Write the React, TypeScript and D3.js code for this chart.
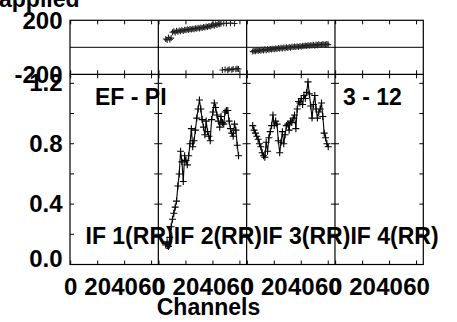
import React from "react";
import * as d3 from "d3";

// ---- data ----
const IF_LABELS = ["IF 1(RR)", "IF 2(RR)", "IF 3(RR)", "IF 4(RR)"];
const CHANNEL_TICKS = [0, 20, 40, 60];
const AMP_TICKS = [0, 0.2, 0.4, 0.6, 0.8, 1.0, 1.2];
const AMP_LABELS = [0, 0.4, 0.8, 1.2];
const PHASE_LABELS = [-200, 200];

const IF1_START = 0;
const IF1_AMP: number[] = [];
const IF1_PHASE: number[] = [];

const IF2_START = 5;
const IF2_AMP = [
  0.13, 0.15, 0.12, 0.18, 0.25, 0.30, 0.34, 0.38, 0.42, 0.52,
  0.60, 0.75, 0.68, 0.55, 0.72, 0.69, 0.66, 0.72, 0.80, 0.90,
  0.78, 0.82, 0.89, 0.97, 1.03, 1.09, 1.03, 0.96, 0.91, 0.86,
  0.95, 0.88, 0.85, 0.82, 0.96, 1.01, 1.07, 1.04, 0.99, 0.95,
  0.91, 0.98, 0.94, 0.93, 1.01, 1.02, 1.02, 0.95, 0.90, 0.87,
  0.85, 0.93, 0.89, 0.79, 0.72,
];
const IF2_PHASE = [
  62, 55, 72, 58, 68, 112, 118, 110, 122, 116,
  125, 119, 128, 121, 130, 126, 133, 128, 136, 131,
  138, 134, 141, 137, 144, 140, 147, 143, 150, 146,
  154, 150, 158, 155, 162, 165, 160, 170, 166, 174,
  171, 176, -168, 178, -165, 177, -170, -162, 179, -166,
  -160, 176, -163, -158, -161,
];

const IF3_START = 4;
const IF3_AMP = [
  0.92, 0.89, 0.87, 0.85, 0.83, 0.80, 0.78, 0.74, 0.72, 0.71,
  0.81, 0.75, 0.84, 0.88, 0.92, 0.99, 0.92, 0.95, 0.93, 0.82,
  0.74, 0.81, 0.88, 0.80, 0.86, 0.92, 0.93, 0.89, 0.95, 0.94,
  0.97, 0.99, 0.90, 1.03, 1.08, 1.07, 1.10, 1.06, 1.12, 1.10,
  1.14, 1.21, 1.13, 1.05, 0.97, 1.06, 1.12, 1.03, 0.97, 1.01,
  1.03, 1.07, 0.98, 0.87, 0.84, 0.80, 0.78,
];
const IF3_PHASE = [
  -32, -25, -30, -22, -28, -20, -26, -18, -24, -15,
  -21, -14, -19, -12, -17, -10, -14, -8, -12, -6,
  -10, -4, -9, -2, -7, 0, -5, 2, -3, 4,
  0, 6, 2, 8, 3, 10, 5, 12, 7, 14,
  9, 16, 11, 15, 13, 18, 12, 20, 15, 22,
  17, 19, 24, 18, 21, 25, 20,
];

const IF4_START = 0;
const IF4_AMP: number[] = [];
const IF4_PHASE: number[] = [];

const SERIES = [
  { start: IF1_START, amp: IF1_AMP, phase: IF1_PHASE },
  { start: IF2_START, amp: IF2_AMP, phase: IF2_PHASE },
  { start: IF3_START, amp: IF3_AMP, phase: IF3_PHASE },
  { start: IF4_START, amp: IF4_AMP, phase: IF4_PHASE },
];

// ---- layout ----
const W = 457;
const H = 322;
const LEFT = 70;
const RIGHT = 423.3;
const PHASE_TOP = 20.3;
const PHASE_BOTTOM = 74.3;
const AMP_BOTTOM = 264.5;
const TICK = 4;
const FONT = "'Liberation Sans', Arial, Helvetica, sans-serif";

const panelScale = d3.scaleBand<number>().domain([0, 1, 2, 3]).range([LEFT, RIGHT]).padding(0);
const phaseY = d3.scaleLinear().domain([-200, 200]).range([PHASE_BOTTOM, PHASE_TOP]);
const ampY = d3.scaleLinear().domain([0, 1.26]).range([AMP_BOTTOM, PHASE_BOTTOM]);

function chanX(i: number) {
  const x0 = panelScale(i) as number;
  return d3.scaleLinear().domain([-0.5, 65]).range([x0, x0 + panelScale.bandwidth()]);
}

function plus(x: number, y: number, s: number) {
  return `M${x - s},${y}H${x + s}M${x},${y - s}V${y + s}`;
}

export default function App() {
  const lines: React.ReactNode[] = [];
  const marks: React.ReactNode[] = [];

  SERIES.forEach((s, i) => {
    const x = chanX(i);
    const x0 = panelScale(i) as number;
    const x1 = x0 + panelScale.bandwidth();
    let tickPath = "";
    CHANNEL_TICKS.forEach((c) => {
      const cx = x(c);
      tickPath += `M${cx},${PHASE_TOP}v${TICK}M${cx},${PHASE_BOTTOM}v${-TICK}M${cx},${PHASE_BOTTOM}v${TICK}M${cx},${AMP_BOTTOM}v${-TICK}`;
    });
    AMP_TICKS.forEach((a) => {
      const ay = ampY(a);
      tickPath += `M${x0},${ay}h${TICK}M${x1},${ay}h${-TICK}`;
    });
    lines.push(<path key={"t" + i} d={tickPath} stroke="#000" strokeWidth={1} fill="none" />);

    const ampPts: [number, number][] = s.amp.map((a, k) => [x(s.start + k), ampY(a)]);
    if (ampPts.length) {
      const line = d3.line();
      marks.push(<path key={"al" + i} d={line(ampPts) || ""} stroke="#000" strokeWidth={1.1} fill="none" />);
      marks.push(
        <path key={"am" + i} d={ampPts.map(([px, py]) => plus(px, py, 3.5)).join("")} stroke="#000" strokeWidth={1.1} fill="none" />
      );
    }
    const phPts = s.phase.map((p, k) => [x(s.start + k), phaseY(p)]);
    if (phPts.length) {
      marks.push(
        <path key={"pm" + i} d={phPts.map(([px, py]) => plus(px, py, 3)).join("")} stroke="#222" strokeWidth={1.1} fill="none" />
      );
    }
  });

  const textStyle = { fontFamily: FONT, fontWeight: 700 as const };

  return (
    <svg width={W} height={H} style={{ position: "absolute", left: 0, top: 0, display: "block", background: "#fff" }}>
      <rect x={0} y={0} width={W} height={H} fill="#fff" />
      <rect x={LEFT} y={PHASE_TOP} width={RIGHT - LEFT} height={AMP_BOTTOM - PHASE_TOP} fill="none" stroke="#000" strokeWidth={1.2} />
      <line x1={LEFT} x2={RIGHT} y1={PHASE_BOTTOM} y2={PHASE_BOTTOM} stroke="#000" strokeWidth={1.2} />
      <line x1={LEFT} x2={RIGHT} y1={phaseY(0)} y2={phaseY(0)} stroke="#000" strokeWidth={1} />
      {[1, 2, 3].map((i) => (
        <line key={i} x1={panelScale(i)} x2={panelScale(i)} y1={PHASE_TOP} y2={AMP_BOTTOM} stroke="#000" strokeWidth={1.2} />
      ))}
      {lines}
      {marks}

      {PHASE_LABELS.map((p) => (
        <text key={"pl" + p} x={62.5} y={phaseY(p) + 8.3} textAnchor="end" fontSize={24} style={textStyle}>
          {p}
        </text>
      ))}
      {AMP_LABELS.map((a) => (
        <text key={"al" + a} x={62.5} y={Math.min(ampY(a) + 8, AMP_BOTTOM + 2.3)} textAnchor="end" fontSize={24} style={textStyle}>
          {a.toFixed(1)}
        </text>
      ))}

      {SERIES.map((_, i) =>
        CHANNEL_TICKS.map((c) => (
          <text key={"xl" + i + "-" + c} x={chanX(i)(c)} y={294.5} textAnchor="middle" fontSize={24} style={textStyle}>
            {c}
          </text>
        ))
      )}

      {IF_LABELS.map((l, i) => (
        <text key={l} x={(panelScale(i) as number) + 15.5} y={244} fontSize={23} style={textStyle}>
          {l}
        </text>
      ))}

      <text x={95} y={105} fontSize={23} style={textStyle}>EF - PI</text>
      <text x={343} y={105} fontSize={23} style={textStyle}>3 - 12</text>
      <text x={208.5} y={315} textAnchor="middle" fontSize={23} style={textStyle}>Channels</text>
      <text x={-1} y={7} fontSize={23} style={textStyle}>applied</text>
    </svg>
  );
}
